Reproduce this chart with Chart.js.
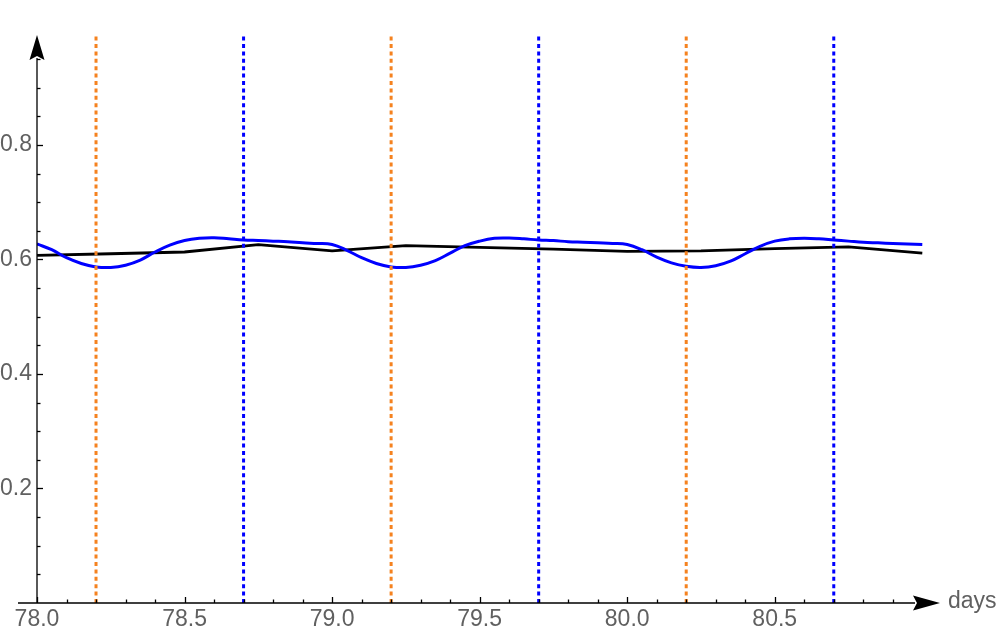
<!DOCTYPE html>
<html>
<head>
<meta charset="utf-8">
<script src="https://cdn.jsdelivr.net/npm/chart.js@4/dist/chart.umd.min.js"></script>
<style>
  body { margin: 0; background: #fff; }
</style>
</head>
<body>
<canvas id="plot" width="1000" height="634"></canvas>
<script>
// ---- data ----
const blueDays = [
  78.00, 78.05, 78.10, 78.15, 78.20, 78.25, 78.30, 78.35, 78.40, 78.45,
  78.50, 78.55, 78.60, 78.65, 78.70, 78.75, 78.80, 78.85, 78.90, 78.95,
  79.00, 79.05, 79.10, 79.15, 79.20, 79.25, 79.30, 79.35, 79.40, 79.45,
  79.50, 79.55, 79.60, 79.65, 79.70, 79.75, 79.80, 79.85, 79.90, 79.95,
  80.00, 80.05, 80.10, 80.15, 80.20, 80.25, 80.30, 80.35, 80.40, 80.45,
  80.50, 80.55, 80.60, 80.65, 80.70, 80.75, 80.80, 80.85, 80.90, 80.95,
  81.00
];
const blueValues = [
  0.627, 0.617, 0.603, 0.593, 0.587, 0.586, 0.590, 0.599, 0.613, 0.625,
  0.633, 0.637, 0.638, 0.636, 0.634, 0.633, 0.632, 0.631, 0.629, 0.628,
  0.626, 0.616, 0.603, 0.593, 0.587, 0.586, 0.590, 0.598, 0.611, 0.624,
  0.632, 0.637, 0.6375, 0.636, 0.634, 0.633, 0.631, 0.630, 0.629, 0.628,
  0.626, 0.617, 0.604, 0.594, 0.588, 0.586, 0.589, 0.597, 0.610, 0.623,
  0.632, 0.636, 0.637, 0.636, 0.634, 0.632, 0.630, 0.629, 0.628, 0.627,
  0.626
];
const blackDays = [78.0, 78.25, 78.5, 78.75, 79.0, 79.25, 79.5, 79.75, 80.0, 80.25, 80.5, 80.75, 81.0];
const blackValues = [0.607, 0.610, 0.613, 0.626, 0.615, 0.624, 0.621, 0.618, 0.614, 0.615, 0.619, 0.622, 0.611];

const orangeMarks = [78.2, 79.2, 80.2];
const blueMarks = [78.7, 79.7, 80.7];

const xMin = 78.0, xMax = 81.06;
const yMin = 0, yMax = 0.992;

const ORANGE = '#f5821f';
const BLUE = '#0000ff';
const LABEL_GRAY = '#606060';
const FONT = '"Liberation Sans", Arial, sans-serif';

// ---- helpers ----
function toPoints(xs, ys) {
  return xs.map((x, i) => ({ x: x, y: ys[i] }));
}

function markLine(day, color) {
  return {
    data: [{ x: day, y: yMin }, { x: day, y: yMax }],
    borderColor: color,
    borderWidth: 3,
    borderDash: [4, 3.4],
    pointRadius: 0,
    tension: 0,
    clip: false
  };
}

function isMultiple(v, step) {
  const r = v / step;
  return Math.abs(r - Math.round(r)) < 1e-6;
}

// ---- axes with inward ticks and arrowheads ----
const axisDecor = {
  id: 'axisDecor',
  afterDraw(chart) {
    const { ctx, chartArea: a, scales: { x, y } } = chart;
    ctx.save();
    ctx.strokeStyle = '#000';
    ctx.fillStyle = '#000';
    ctx.lineWidth = 1.3;

    // x ticks (pointing up into the plot)
    x.ticks.forEach(t => {
      if (t.value > 80.95) return;
      const px = Math.round(x.getPixelForValue(t.value)) + 0.5;
      const len = isMultiple(t.value, 0.5) ? 6 : 3.5;
      ctx.beginPath();
      ctx.moveTo(px, a.bottom);
      ctx.lineTo(px, a.bottom - len);
      ctx.stroke();
    });

    // y ticks (pointing right into the plot)
    y.ticks.forEach(t => {
      if (t.value < 0.01 || t.value > 0.96) return;
      const py = Math.round(y.getPixelForValue(t.value)) + 0.5;
      const len = isMultiple(t.value, 0.2) ? 6 : 3.5;
      ctx.beginPath();
      ctx.moveTo(a.left, py);
      ctx.lineTo(a.left + len, py);
      ctx.stroke();
    });

    // axis lines
    ctx.beginPath();
    ctx.moveTo(18, a.bottom);
    ctx.lineTo(a.right - 25, a.bottom);
    ctx.moveTo(a.left, a.bottom);
    ctx.lineTo(a.left, a.top + 23);
    ctx.stroke();

    // y arrowhead
    ctx.beginPath();
    ctx.moveTo(a.left, a.top);
    ctx.lineTo(a.left + 7.5, a.top + 25);
    ctx.lineTo(a.left, a.top + 21);
    ctx.lineTo(a.left - 7.5, a.top + 25);
    ctx.closePath();
    ctx.fill();

    // x arrowhead
    ctx.beginPath();
    ctx.moveTo(a.right, a.bottom);
    ctx.lineTo(a.right - 27, a.bottom - 7.5);
    ctx.lineTo(a.right - 23, a.bottom);
    ctx.lineTo(a.right - 27, a.bottom + 7.5);
    ctx.closePath();
    ctx.fill();

    // axis label
    ctx.fillStyle = LABEL_GRAY;
    ctx.font = '23px ' + FONT;
    ctx.textAlign = 'left';
    ctx.textBaseline = 'middle';
    ctx.fillText('days', a.right + 8, a.bottom - 1);
    ctx.restore();
  }
};

// ---- chart ----
const datasets = [];
orangeMarks.forEach(d => datasets.push(markLine(d, ORANGE)));
blueMarks.forEach(d => datasets.push(markLine(d, BLUE)));
datasets.push({
  data: toPoints(blueDays, blueValues),
  borderColor: BLUE,
  borderWidth: 3,
  pointRadius: 0,
  tension: 0.4
});
datasets.push({
  data: toPoints(blackDays, blackValues),
  borderColor: '#000',
  borderWidth: 2.8,
  pointRadius: 0,
  tension: 0
});

new Chart(document.getElementById('plot'), {
  type: 'line',
  data: { datasets: datasets },
  options: {
    responsive: false,
    animation: false,
    layout: { padding: { left: 0, top: 35, right: 60, bottom: 0 } },
    plugins: { legend: { display: false }, tooltip: { enabled: false } },
    scales: {
      x: {
        type: 'linear',
        min: xMin,
        max: xMax,
        grid: { display: false, drawTicks: false },
        border: { display: false },
        afterFit: s => { s.height = 31; },
        ticks: {
          stepSize: 0.1,
          includeBounds: false,
          autoSkip: false,
          maxRotation: 0,
          padding: 3,
          color: LABEL_GRAY,
          font: { size: 23, family: FONT },
          callback: v => (isMultiple(v, 0.5) && v < 80.9) ? v.toFixed(1) : ''
        }
      },
      y: {
        min: yMin,
        max: yMax,
        grid: { display: false, drawTicks: false },
        border: { display: false },
        afterFit: s => { s.width = 37; },
        ticks: {
          stepSize: 0.05,
          includeBounds: false,
          autoSkip: false,
          padding: 5,
          color: LABEL_GRAY,
          font: { size: 23, family: FONT },
          callback: v => (isMultiple(v, 0.2) && v > 0.01) ? v.toFixed(1) : ''
        }
      }
    }
  },
  plugins: [axisDecor]
});
</script>
</body>
</html>
